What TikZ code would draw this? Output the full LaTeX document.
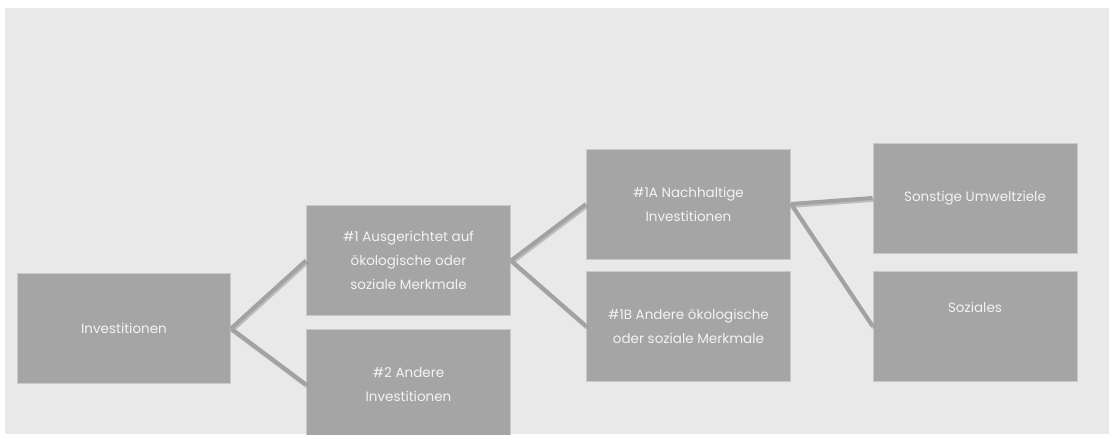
\documentclass[tikz,border=0pt]{standalone}
\usepackage{fontspec}
\setmainfont{Poppins}
\usepackage{xcolor}
\usepackage{tikz}
\definecolor{bggray}{HTML}{E9E9E9}
\definecolor{boxgray}{HTML}{A5A5A5}
\definecolor{edgegray}{HTML}{C9C9C9}
\definecolor{linkgray}{HTML}{A2A2A2}
\definecolor{shadegray}{HTML}{7E7E7E}
\definecolor{txtgray}{HTML}{F3F3F3}

\begin{document}
\begin{tikzpicture}[x=1pt,y=-1pt,
  box/.style={draw=edgegray,line width=1pt,fill=boxgray,text=txtgray,
    minimum width=204pt,minimum height=110pt,align=center,inner sep=2pt,
    font=\fontsize{13.5}{24}\selectfont},
  link/.style={linkgray,line width=4pt},
  linkshade/.style={shadegray,line width=4pt,opacity=.4,transform canvas={shift={(1.2pt,-1.8pt)}}}]
\useasboundingbox (0,0) rectangle (1109,434);
\fill[white] (0,0) rectangle (1109,434);
\fill[bggray] (5,8) rectangle (1109,434);
\begin{scope}
\clip (0,0) rectangle (1109,434);
\node[box,minimum width=213pt] (inv) at (124,328.5) {Investitionen};
\node[box] (art1) at (408.5,260.5) {\#1 Ausgerichtet auf\\ökologische oder\\soziale Merkmale};
\node[box] (art2) at (408.5,384.5) {\#2 Andere\\Investitionen};
\node[box] (art1a) at (688.5,204) {\#1A Nachhaltige\\Investitionen};
\node[box] (art1b) at (688.5,326) {\#1B Andere ökologische\\oder soziale Merkmale};
\node[box] (umwelt) at (975,198) {Sonstige Umweltziele};
\node[box,text depth=38pt] (sozial) at (975,326) {Soziales};
\foreach \a/\b in {inv/art1,inv/art2,art1/art1a,art1/art1b,art1a/umwelt,art1a/sozial} {
  \draw[linkshade] (\a.east) -- (\b.west);
  \draw[link] (\a.east) -- (\b.west);
}
\end{scope}
\end{tikzpicture}
\end{document}
